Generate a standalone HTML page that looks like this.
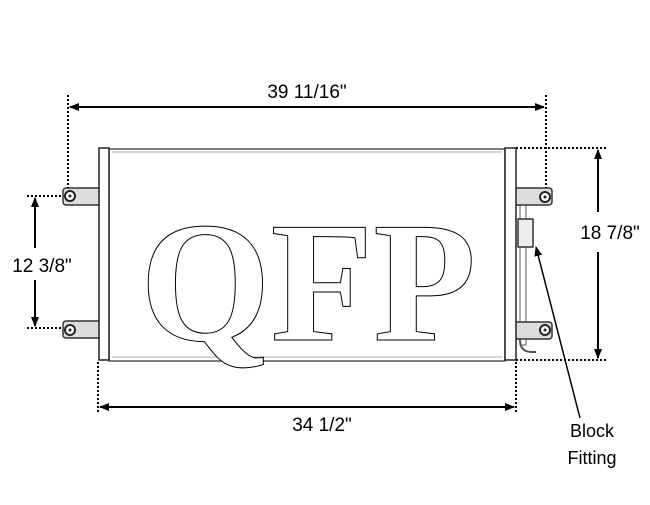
<!DOCTYPE html>
<html><head><style>body{margin:0;background:#fff}</style></head><body>
<svg width="650" height="500" viewBox="0 0 650 500" xmlns="http://www.w3.org/2000/svg" font-family="Liberation Sans, sans-serif">
<defs><marker id="a" markerWidth="10" markerHeight="8" refX="9" refY="4" orient="auto" markerUnits="userSpaceOnUse"><path d="M0,0 L10,4 L0,8z" fill="#000"/></marker></defs>
<rect width="650" height="500" fill="#fff"/>
<!-- core -->
<rect x="109" y="149" width="396" height="212" fill="#fff" stroke="#555" stroke-width="1.5"/>
<line x1="112" y1="152" x2="502" y2="152" stroke="#aaa"/>
<line x1="112" y1="357" x2="502" y2="357" stroke="#aaa"/>
<!-- QFP -->
<text x="140" y="340" font-family="Liberation Serif, serif" font-weight="bold" font-size="172" textLength="336" lengthAdjust="spacingAndGlyphs" fill="#fff" stroke="#000" stroke-width="1">QFP</text>
<!-- left brackets -->
<rect x="63" y="188" width="40" height="17" rx="3" fill="#ddd" stroke="#333" stroke-width="1.5"/>
<circle cx="70" cy="196" r="5" fill="#fff" stroke="#222" stroke-width="2"/><circle cx="70" cy="196" r="1.5" fill="#222"/>
<rect x="63" y="321" width="40" height="17" rx="3" fill="#ddd" stroke="#333" stroke-width="1.5"/>
<circle cx="70" cy="330" r="5" fill="#fff" stroke="#222" stroke-width="2"/><circle cx="70" cy="330" r="1.5" fill="#222"/>
<rect x="99" y="148" width="10" height="212" fill="#fff" stroke="#222" stroke-width="1.5"/>
<!-- right side -->
<rect x="520" y="205" width="6" height="140" fill="#fff" stroke="#555"/>
<path d="M520,340 q0,12 12,12 h4" fill="none" stroke="#555" stroke-width="2"/>
<rect x="512" y="188" width="40" height="17" rx="3" fill="#ddd" stroke="#333" stroke-width="1.5"/>
<circle cx="545" cy="197" r="5" fill="#fff" stroke="#222" stroke-width="2"/><circle cx="545" cy="197" r="1.5" fill="#222"/>
<rect x="512" y="322" width="40" height="17" rx="3" fill="#ddd" stroke="#333" stroke-width="1.5"/>
<circle cx="545" cy="330" r="5" fill="#fff" stroke="#222" stroke-width="2"/><circle cx="545" cy="330" r="1.5" fill="#222"/>
<rect x="518" y="219" width="15" height="28" fill="#eee" stroke="#333" stroke-width="1.5"/>
<rect x="505" y="148" width="11" height="212" fill="#fff" stroke="#222" stroke-width="1.5"/>
<!-- dotted extension lines -->
<g stroke="#000" stroke-width="2" stroke-dasharray="2,2" fill="none">
<line x1="68" y1="95" x2="68" y2="188"/><line x1="546" y1="95" x2="546" y2="188"/>
<line x1="27" y1="196" x2="63" y2="196"/><line x1="27" y1="328" x2="63" y2="328"/>
<line x1="516" y1="148" x2="607" y2="148"/><line x1="516" y1="360" x2="607" y2="360"/>
<line x1="98" y1="362" x2="98" y2="412"/><line x1="516" y1="362" x2="516" y2="412"/>
</g>
<!-- dimension arrows -->
<g stroke="#000" stroke-width="2" fill="none">
<line x1="78" y1="107" x2="544" y2="107" marker-end="url(#a)"/><line x1="536" y1="107" x2="70" y2="107" marker-end="url(#a)"/>
<line x1="35" y1="248" x2="35" y2="198" marker-end="url(#a)"/><line x1="35" y1="280" x2="35" y2="326" marker-end="url(#a)"/>
<line x1="598" y1="212" x2="598" y2="150" marker-end="url(#a)"/><line x1="598" y1="252" x2="598" y2="358" marker-end="url(#a)"/>
<line x1="110" y1="407" x2="514" y2="407" marker-end="url(#a)"/><line x1="504" y1="407" x2="100" y2="407" marker-end="url(#a)"/>
<line x1="580" y1="418" x2="536" y2="247" stroke-width="1.5" marker-end="url(#a)"/>
</g>
<g font-size="19" fill="#000">
<text x="307" y="98" text-anchor="middle">39 11/16"</text>
<text x="42" y="272" text-anchor="middle">12 3/8"</text>
<text x="610" y="239" text-anchor="middle">18 7/8"</text>
<text x="322" y="431" text-anchor="middle">34 1/2"</text>
<text x="592" y="437" text-anchor="middle" font-size="18">Block</text>
<text x="592" y="464" text-anchor="middle" font-size="18">Fitting</text>
</g>
</svg>
</body></html>
